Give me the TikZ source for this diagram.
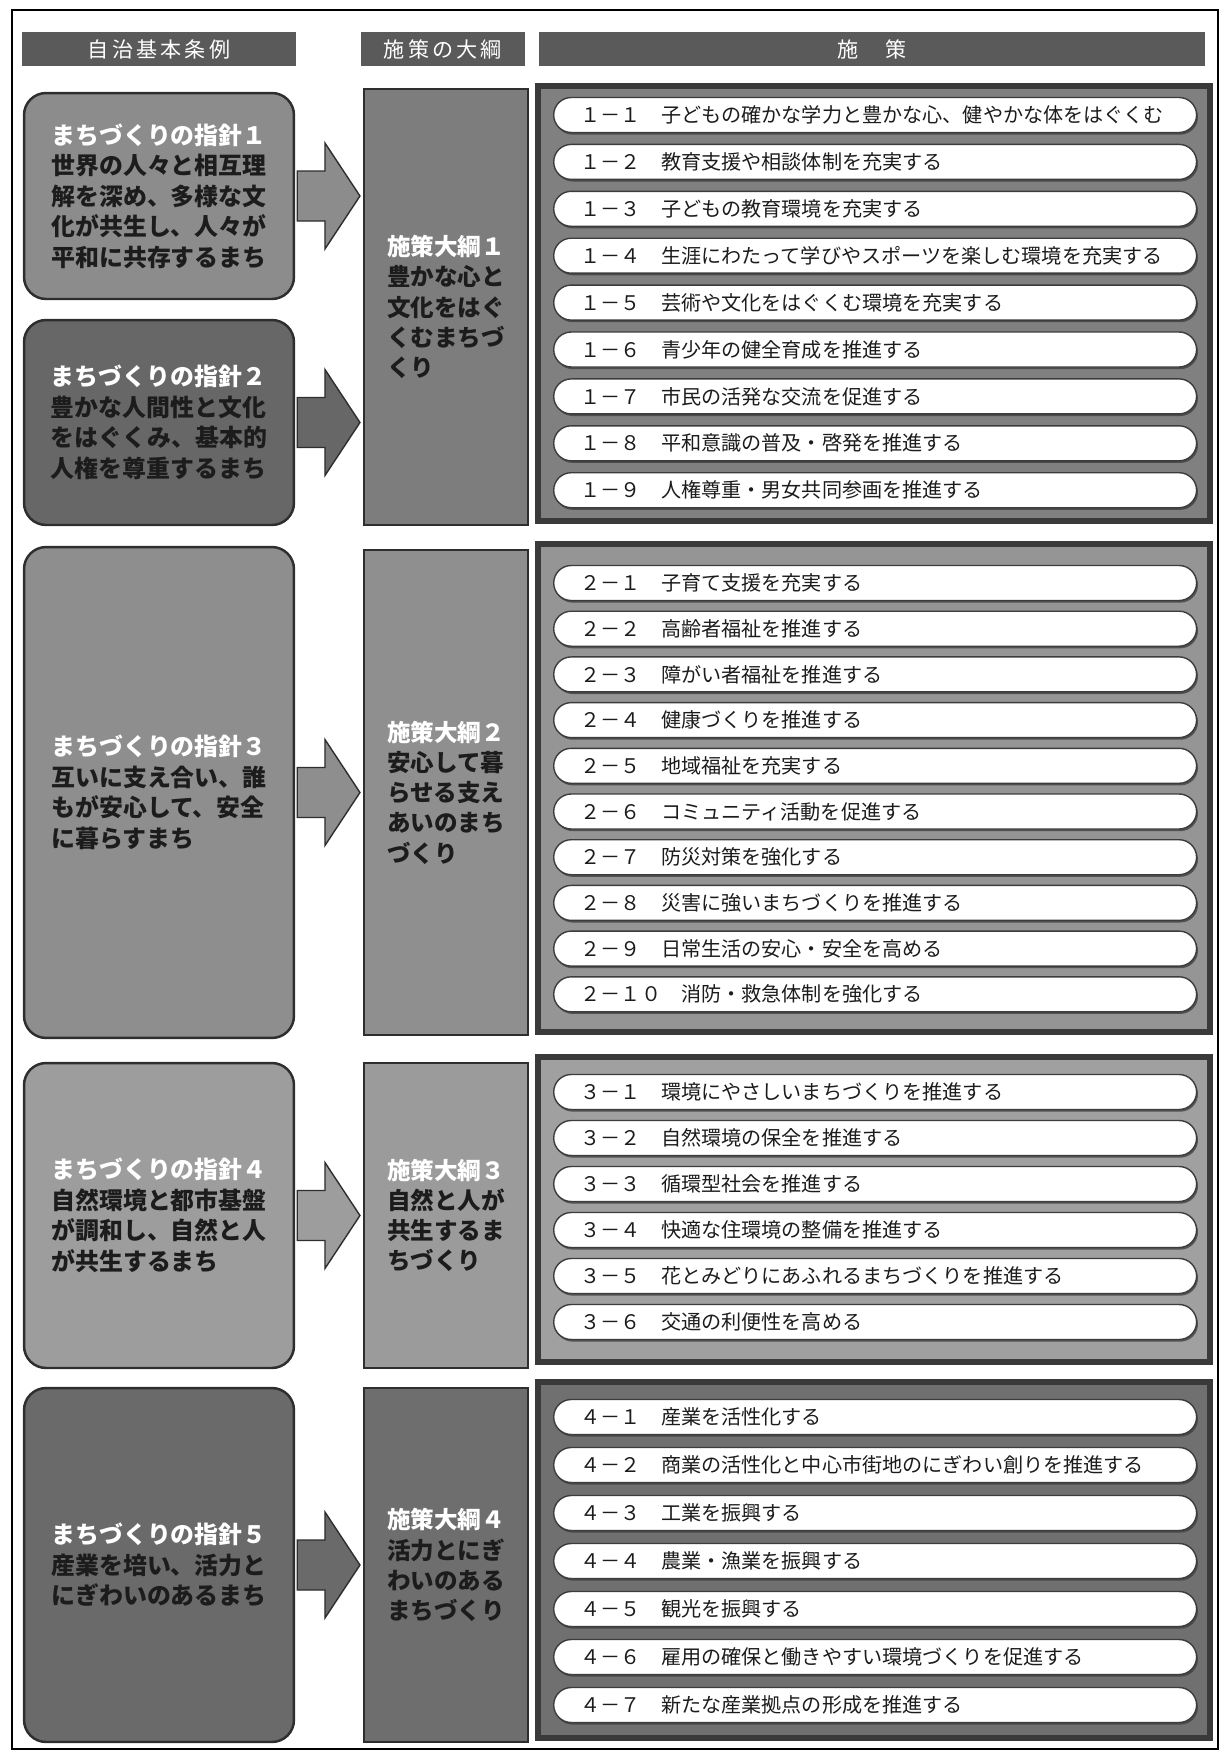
\documentclass[tikz,border=0pt]{standalone}
\usepackage{fontspec}
\setmainfont{Noto Sans CJK JP}
\newfontfamily\headfont[LetterSpace=15]{Noto Sans CJK JP}
\usetikzlibrary{calc,shadows}

\definecolor{headgray}{HTML}{5A5A5A}
\definecolor{boxline}{HTML}{2E2E2E}
\definecolor{framegray}{HTML}{3A3A3A}
\definecolor{pillline}{HTML}{3C3C3C}
\definecolor{inktext}{HTML}{1C1C1C}
\definecolor{gone}{HTML}{8C8C8C}
\definecolor{gtwo}{HTML}{676767}
\definecolor{gthree}{HTML}{8E8E8E}
\definecolor{gfour}{HTML}{9D9D9D}
\definecolor{gfive}{HTML}{6A6A6A}
\definecolor{tone}{HTML}{7D7D7D}
\definecolor{ttwo}{HTML}{8F8F8F}
\definecolor{tthree}{HTML}{9B9B9B}
\definecolor{tfour}{HTML}{6E6E6E}
\definecolor{fone}{HTML}{808080}
\definecolor{ftwo}{HTML}{959595}
\definecolor{fthree}{HTML}{A0A0A0}
\definecolor{ffour}{HTML}{707070}

\tikzset{%
  >=latex,
  colhead/.style={fill=headgray, text=white, minimum height=0.68cm, inner sep=0pt,
    font=\headfont\fontsize{12}{14}\selectfont},
  guide/.style={draw=boxline, line width=1.4pt, rounded corners=0.44cm, minimum width=5.4cm,
    inner sep=0pt, align=left, text=inktext, font=\bfseries\fontsize{13.6}{17.4}\selectfont},
  outline/.style={draw=boxline, line width=1.2pt, minimum width=3.28cm, inner sep=0pt,
    align=left, text=inktext, font=\bfseries\fontsize{13.4}{17.2}\selectfont},
  policybox/.style={draw=framegray, line width=3pt, inner sep=0pt, minimum width=13.44cm},
  pill/.style={draw=pillline, fill=white, line width=0.8pt, rounded corners=0.35cm,
    minimum width=12.86cm, minimum height=0.7cm, text width=11.78cm, align=left,
    inner sep=0pt, anchor=west, text=inktext, font=\fontsize{11.45}{13}\selectfont,
    drop shadow={shadow xshift=0.8pt, shadow yshift=-1.2pt, fill=black!75, opacity=0.8}},
  arrowline/.style={draw=boxline, line width=0.8pt}
}

\newcommand{\whiteline}[1]{\textcolor{white}{#1}}
\newcommand{\fatarrow}[3]{%
  \coordinate (s) at ($(#1.east)+(2,0)$);
  \coordinate (t) at ($(#2.west |- #1.east)+(-3,0)$);
  \draw[arrowline, fill=#3] ($(s)+(0,-25)$) -- ($(t)+(-35,-25)$) -- ($(t)+(-35,-53)$) -- (t)
    -- ($(t)+(-35,53)$) -- ($(t)+(-35,25)$) -- ($(s)+(0,25)$) -- cycle;}

\begin{document}
\begin{tikzpicture}[x=0.02cm, y=-0.02cm]
  \useasboundingbox (0,0) rectangle (1226,1751);
  \draw[line width=0.8pt] (12,10) rectangle (1218,1749);

  \node[colhead, minimum width=5.48cm] (h1) at (159,49) {自治基本条例};
  \node[colhead, minimum width=3.28cm] (h2) at (443,49) {施策の大綱};
  \node[colhead, minimum width=13.32cm] (h3) at (872,49) {施　策};

  \node[guide, fill=gone, minimum height=4.12cm] (g1) at (159,196)
    {\whiteline{まちづくりの指針１}\\世界の人々と相互理\\解を深め、多様な文\\化が共生し、人々が\\平和に共存するまち};
  \node[guide, fill=gtwo, minimum height=4.1cm] (g2) at (159,422.5)
    {\whiteline{まちづくりの指針２}\\豊かな人間性と文化\\をはぐくみ、基本的\\人権を尊重するまち};
  \node[guide, fill=gthree, minimum height=9.82cm] (g3) at (159,792.5)
    {\whiteline{まちづくりの指針３}\\互いに支え合い、誰\\もが安心して、安全\\に暮らすまち};
  \node[guide, fill=gfour, minimum height=6.1cm] (g4) at (159,1215.5)
    {\whiteline{まちづくりの指針４}\\自然環境と都市基盤\\が調和し、自然と人\\が共生するまち};
  \node[guide, fill=gfive, minimum height=7.08cm] (g5) at (159,1565)
    {\whiteline{まちづくりの指針５}\\産業を培い、活力と\\にぎわいのあるまち};

  \node[outline, fill=tone, minimum height=8.72cm] (t1) at (446,307)
    {\whiteline{施策大綱１}\\豊かな心と\\文化をはぐ\\くむまちづ\\くり};
  \node[outline, fill=ttwo, minimum height=9.7cm] (t2) at (446,792.5)
    {\whiteline{施策大綱２}\\安心して暮\\らせる支え\\あいのまち\\づくり};
  \node[outline, fill=tthree, minimum height=6.1cm] (t3) at (446,1215.5)
    {\whiteline{施策大綱３}\\自然と人が\\共生するま\\ちづくり};
  \node[outline, fill=tfour, minimum height=7.08cm] (t4) at (446,1565)
    {\whiteline{施策大綱４}\\活力とにぎ\\わいのある\\まちづくり};

  \fatarrow{g1}{t1}{gone}
  \fatarrow{g2}{t1}{gtwo}
  \fatarrow{g3}{t2}{gthree}
  \fatarrow{g4}{t3}{gfour}
  \fatarrow{g5}{t4}{gfive}

  \node[policybox, fill=fone, minimum height=8.7cm] (f1) at (874,303.5) {};
  \node[policybox, fill=ftwo, minimum height=9.76cm] (f2) at (874,788) {};
  \node[policybox, fill=fthree, minimum height=6.1cm] (f3) at (874,1209.5) {};
  \node[policybox, fill=ffour, minimum height=7.12cm] (f4) at (874,1560) {};

  \foreach \nr/\txt [count=\i] in {
      １/子どもの確かな学力と豊かな心、健やかな体をはぐくむ,
      ２/教育支援や相談体制を充実する,
      ３/子どもの教育環境を充実する,
      ４/生涯にわたって学びやスポーツを楽しむ環境を充実する,
      ５/芸術や文化をはぐくむ環境を充実する,
      ６/青少年の健全育成を推進する,
      ７/市民の活発な交流を促進する,
      ８/平和意識の普及・啓発を推進する,
      ９/人権尊重・男女共同参画を推進する}
    \node[pill] (p1-\i) at (553,{115+46.9*(\i-1)}) {１－\nr　\txt};

  \foreach \nr/\txt [count=\i] in {
      １/子育て支援を充実する,
      ２/高齢者福祉を推進する,
      ３/障がい者福祉を推進する,
      ４/健康づくりを推進する,
      ５/地域福祉を充実する,
      ６/コミュニティ活動を促進する,
      ７/防災対策を強化する,
      ８/災害に強いまちづくりを推進する,
      ９/日常生活の安心・安全を高める,
      １０/消防・救急体制を強化する}
    \node[pill] (p2-\i) at (553,{583+45.7*(\i-1)}) {２－\nr　\txt};

  \foreach \nr/\txt [count=\i] in {
      １/環境にやさしいまちづくりを推進する,
      ２/自然環境の保全を推進する,
      ３/循環型社会を推進する,
      ４/快適な住環境の整備を推進する,
      ５/花とみどりにあふれるまちづくりを推進する,
      ６/交通の利便性を高める}
    \node[pill] (p3-\i) at (553,{1092+46*(\i-1)}) {３－\nr　\txt};

  \foreach \nr/\txt [count=\i] in {
      １/産業を活性化する,
      ２/商業の活性化と中心市街地のにぎわい創りを推進する,
      ３/工業を振興する,
      ４/農業・漁業を振興する,
      ５/観光を振興する,
      ６/雇用の確保と働きやすい環境づくりを促進する,
      ７/新たな産業拠点の形成を推進する}
    \node[pill] (p4-\i) at (553,{1417+48*(\i-1)}) {４－\nr　\txt};
\end{tikzpicture}
\end{document}
